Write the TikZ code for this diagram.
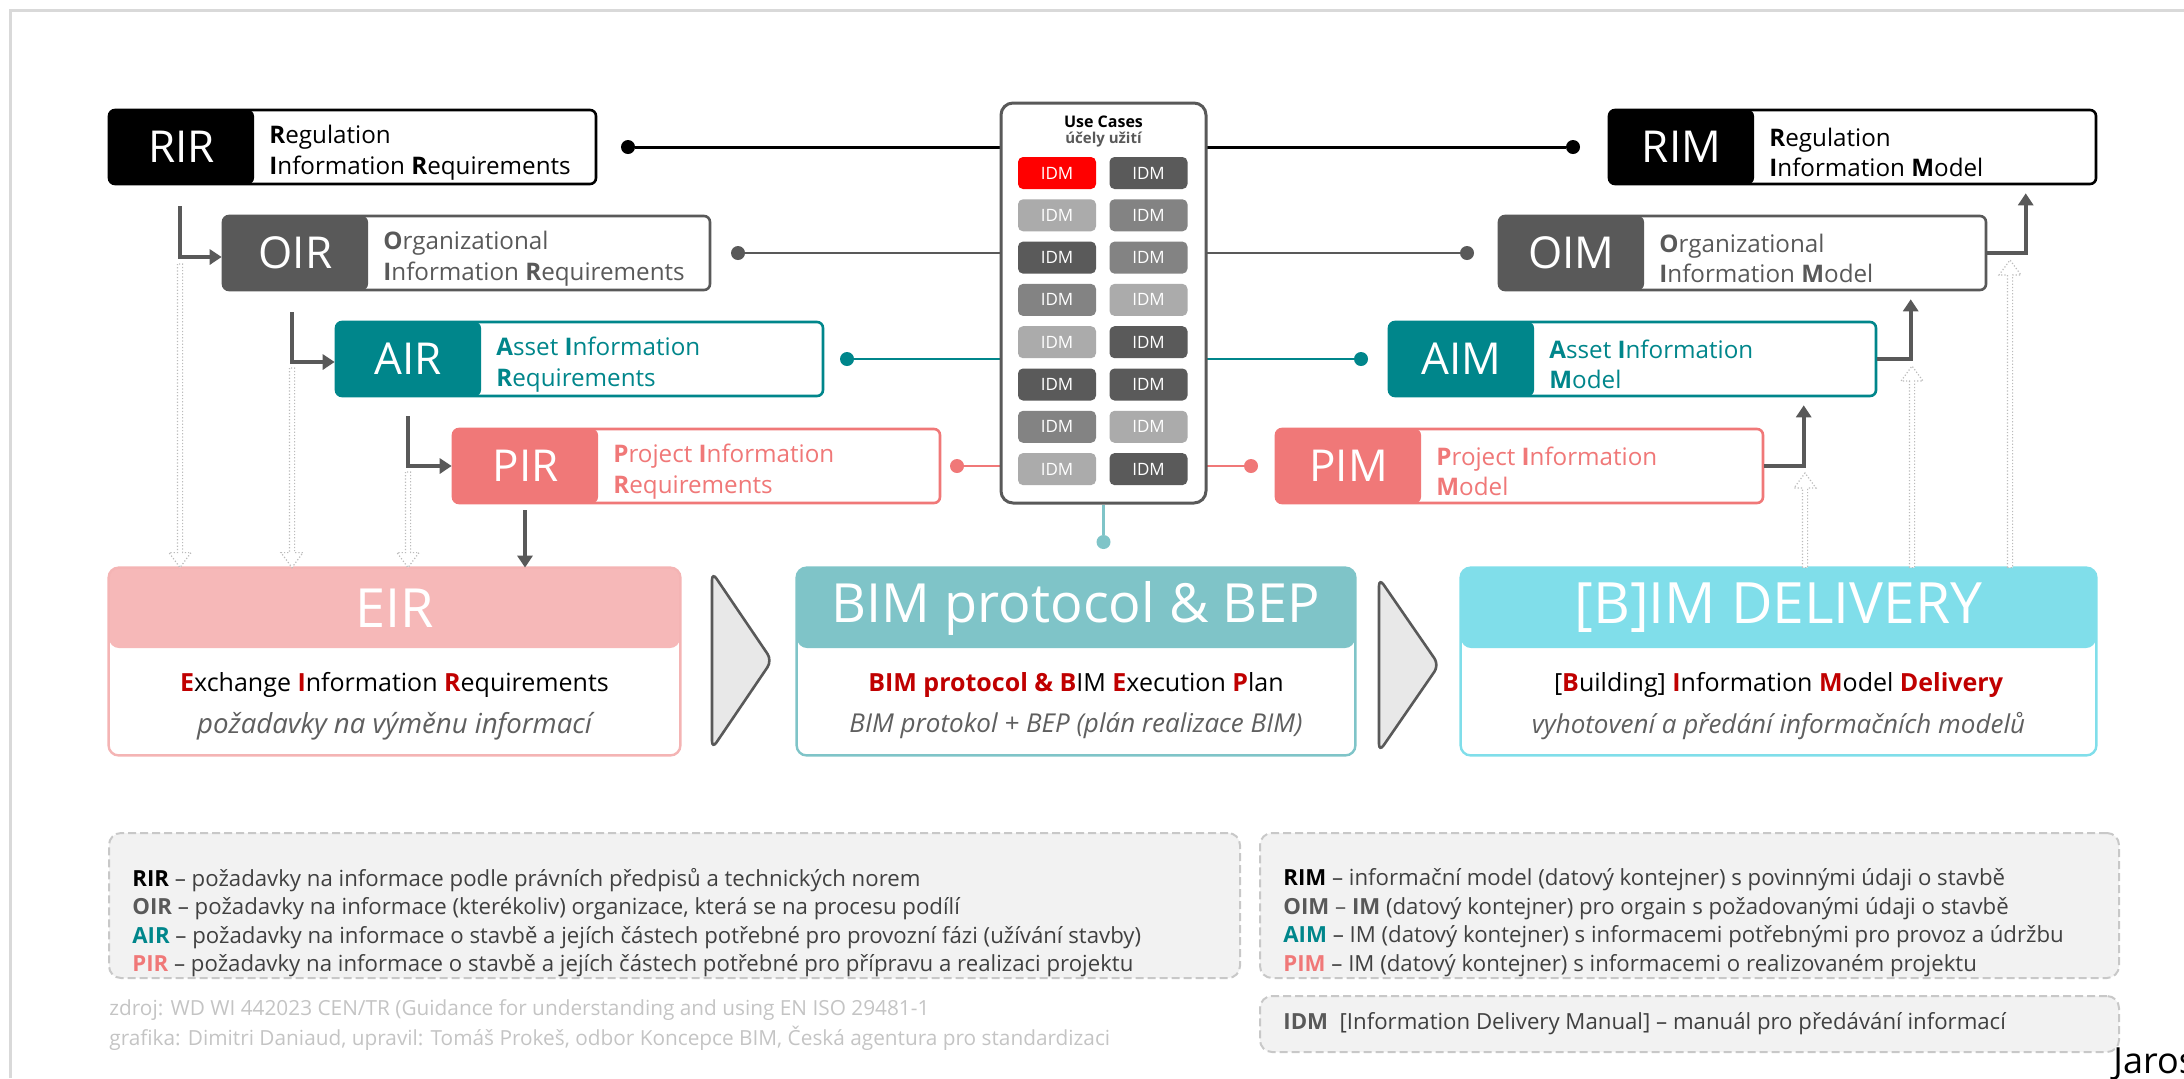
\documentclass[tikz,border=0pt]{standalone}
\usepackage{fontspec}
\setmainfont{Open Sans}
\usetikzlibrary{arrows.meta,calc}

\definecolor{cR}{HTML}{000000}
\definecolor{cO}{HTML}{595959}
\definecolor{cA}{HTML}{00868B}
\definecolor{cP}{HTML}{F07878}
\definecolor{dkred}{HTML}{C00000}
\definecolor{eirH}{HTML}{F6B8B8}
\definecolor{eirB}{HTML}{F4B4B4}
\definecolor{bepH}{HTML}{7FC4C8}
\definecolor{delH}{HTML}{80DEEA}
\definecolor{idmRed}{HTML}{FF0000}
\definecolor{idmD}{HTML}{5A5A5A}
\definecolor{idmM}{HTML}{838383}
\definecolor{idmL}{HTML}{ABABAB}
\definecolor{legfill}{HTML}{F2F2F2}
\definecolor{legdraw}{HTML}{C8C8C8}
\definecolor{txtgray}{HTML}{404040}
\definecolor{itgray}{HTML}{5F5F5F}
\definecolor{srcgray}{HTML}{C4C4C4}
\definecolor{hollowc}{HTML}{BBBBBB}
\definecolor{chevfill}{HTML}{E8E8E8}
\definecolor{framec}{HTML}{D9D9D9}

\newcommand\redb[1]{{\color{dkred}\bfseries #1}}

\newcommand\irbox[7]{%
  \node[outerbox, draw=#4] (#1) at ({#2+243.5},{#3+37}) {};
  \node[labbox, fill=#4] (#1lab) at ({#2+72.5},{#3+37}) {#5};
  \node[desc, text=#4] (#1txt) at ({#2+160},{#3+42.5}) {#6\\#7};
}

\newcommand\hollowarr[2]{%
  \path[hollow] let \p1=(#1), \p2=(#2), \n1={ifthenelse(\y1>\y2,7.5,-7.5)} in
   ({\x1-1.3pt},{\y1}) -- ({\x1-1.3pt},{\y2+(\n1)*1pt}) -- ({\x1-5.5pt},{\y2+(\n1)*1pt})
   -- (\p2) -- ({\x1+5.5pt},{\y2+(\n1)*1pt}) -- ({\x1+1.3pt},{\y2+(\n1)*1pt})
   -- ({\x1+1.3pt},{\y1}) -- cycle;
}

\begin{document}
\begin{tikzpicture}[x=0.5pt,y=-0.5pt,
  outerbox/.style={line width=1.3pt, fill=white, rounded corners=3pt,
    minimum width=243.5pt, minimum height=37pt, inner sep=0pt},
  labbox/.style={rounded corners=3pt, minimum width=72.5pt, minimum height=37pt,
    inner sep=0pt, text=white, font=\fontsize{22}{24}\selectfont},
  desc/.style={anchor=west, align=left, inner sep=0pt, font=\fontsize{12.1}{15.3}\selectfont},
  conn/.style={line width=1.3pt},
  dot/.style={circle, inner sep=0pt, minimum size=7pt},
  idm/.style={rounded corners=2.5pt, minimum width=39pt, minimum height=16pt,
    inner sep=0pt, text=white, font=\fontsize{8.5}{9}\selectfont},
  darrow/.style={draw=cO, line width=2pt, -{Triangle[length=6pt,width=7.5pt]}},
  hollow/.style={draw=hollowc, densely dotted, line width=0.6pt, fill=white},
  bbox/.style={fill=white, minimum height=93.5pt, inner sep=0pt, rounded corners=5pt},
  bhead/.style={minimum height=40pt, inner sep=0pt, rounded corners=5pt, text=white},
  bline1/.style={inner sep=0pt, font=\fontsize{12.5}{15}\selectfont},
  bline2/.style={inner sep=0pt, text=itgray, font=\fontsize{13}{15}\selectfont\itshape},
  chev/.style={draw=cO, fill=chevfill, line width=1.3pt, rounded corners=4pt},
  legbox/.style={draw=legdraw, fill=legfill, dash pattern=on 4pt off 2pt, line width=1pt,
    rounded corners=6pt, inner sep=0pt},
  legtext/.style={anchor=west, align=left, inner sep=0pt, text=txtgray,
    font=\fontsize{11.1}{14.3}\selectfont}
]
\useasboundingbox (0,0) rectangle (2184,1078);

% frame
\draw[framec, line width=1.5pt] (10,1078) -- (10,10) -- (2184,10);

% requirement / model boxes
\irbox{RIR}{109}{110}{cR}{RIR}{\textbf{R}egulation}{\textbf{I}nformation \textbf{R}equirements}
\irbox{OIR}{223}{216}{cO}{OIR}{\textbf{O}rganizational}{\textbf{I}nformation \textbf{R}equirements}
\irbox{AIR}{336}{322}{cA}{AIR}{\textbf{A}sset \textbf{I}nformation}{\textbf{R}equirements}
\irbox{PIR}{453}{429}{cP}{PIR}{\textbf{P}roject \textbf{I}nformation}{\textbf{R}equirements}
\irbox{RIM}{1609}{110}{cR}{RIM}{\textbf{R}egulation}{\textbf{I}nformation \textbf{M}odel}
\irbox{OIM}{1499}{216}{cO}{OIM}{\textbf{O}rganizational}{\textbf{I}nformation \textbf{M}odel}
\irbox{AIM}{1389}{322}{cA}{AIM}{\textbf{A}sset \textbf{I}nformation}{\textbf{M}odel}
\irbox{PIM}{1276}{429}{cP}{PIM}{\textbf{P}roject \textbf{I}nformation}{\textbf{M}odel}

% horizontal connectors
\node[dot, fill=cR] (dRIR) at (628,147) {};
\node[dot, fill=cR] (dRIM) at (1573,147) {};
\draw[conn, cR, line width=1.5pt] (dRIR) -- (dRIM);
\node[dot, fill=cO] (dOIR) at (738,253) {};
\node[dot, fill=cO] (dOIM) at (1467,253) {};
\draw[conn, cO] (dOIR) -- (dOIM);
\node[dot, fill=cA] (dAIR) at (847,359) {};
\node[dot, fill=cA] (dAIM) at (1361,359) {};
\draw[conn, cA] (dAIR) -- (dAIM);
\node[dot, fill=cP] (dPIR) at (957,466) {};
\node[dot, fill=cP] (dPIM) at (1251,466) {};
\draw[conn, cP] (dPIR) -- (dPIM);

% use cases box
\node[draw=cO, fill=white, line width=1.5pt, rounded corners=6pt, minimum width=102.5pt,
  minimum height=200pt, inner sep=0pt] (UC) at (1103.5,303) {};
\node[inner sep=0pt, font=\fontsize{8}{9}\selectfont\bfseries] (UCt) at (1103.5,122) {Use Cases};
\node[inner sep=0pt, text=cO, font=\fontsize{7.5}{8}\selectfont\bfseries] (UCs) at (1103.5,140) {účely užití};
\foreach \c [count=\i] in {idmRed,idmL,idmD,idmM,idmL,idmD,idmM,idmL}
  \node[idm, fill=\c] (idmA\i) at (1057,{173+(\i-1)*42.3}) {IDM};
\foreach \c [count=\i] in {idmD,idmM,idmM,idmL,idmD,idmD,idmL,idmD}
  \node[idm, fill=\c] (idmB\i) at (1148.5,{173+(\i-1)*42.3}) {IDM};
\node[dot, fill=bepH] (dUC) at (1103.5,542) {};
\draw[conn, bepH] (UC.south) -- (dUC);

% bottom boxes
\node[bbox, minimum width=285.5pt] (EIR) at (394.5,661.5) {};
\node[bhead, fill=eirH, minimum width=285.5pt, font=\fontsize{27}{30}\selectfont] (EIRh) at (394.5,608) {EIR};
\draw[eirB, line width=1.2pt, rounded corners=5pt] (EIR.north west) rectangle (EIR.south east);
\node[bline1] (EIRl1) at (394.5,685) {\redb{E}xchange \redb{I}nformation \redb{R}equirements};
\node[bline2, font=\fontsize{13.8}{15}\selectfont\itshape] (EIRl2) at (394.5,726) {požadavky na výměnu informací};

\node[bbox, minimum width=279pt] (BEP) at (1076,661.5) {};
\node[bhead, fill=bepH, minimum width=279pt, font=\fontsize{27}{30}\selectfont] (BEPh) at (1076,608) {BIM protocol \& BEP};
\draw[bepH, line width=1.2pt, rounded corners=5pt] (BEP.north west) rectangle (BEP.south east);
\node[bline1] (BEPl1) at (1076,685) {\redb{BIM protocol \& B}IM \redb{E}xecution \redb{P}lan};
\node[bline2] (BEPl2) at (1076,726) {BIM protokol + BEP (plán realizace BIM)};

\node[bbox, minimum width=317.5pt] (DEL) at (1778.5,661.5) {};
\node[bhead, fill=delH, minimum width=317.5pt, font=\fontsize{28.5}{31}\selectfont] (DELh) at (1778.5,608) {[B]IM DELIVERY};
\draw[delH, line width=1.2pt, rounded corners=5pt] (DEL.north west) rectangle (DEL.south east);
\node[bline1] (DELl1) at (1778.5,685) {[\redb{B}uilding] \redb{I}nformation \redb{M}odel \redb{Delivery}};
\node[bline2] (DELl2) at (1778.5,726) {vyhotovení a předání informačních modelů};

% chevrons
\draw[chev] (712,572) -- (772,660.5) -- (712,749) -- cycle;
\draw[chev] (1379,578) -- (1439,665) -- (1379,752) -- cycle;

% left elbow arrows
\coordinate (e1) at (180,206);
\draw[darrow] (e1) |- ($(OIR.west)+(0,4)$);
\coordinate (e2) at (292,312);
\draw[darrow] (e2) |- ($(AIR.west)+(0,3)$);
\coordinate (e3) at (408,416);
\draw[darrow] (e3) |- (PIR.west);
\coordinate (e4) at (525,510);
\draw[darrow] (e4) -- (e4 |- EIR.north);

% left hollow arrows
\coordinate (h1) at (180,264);
\hollowarr{h1}{h1 |- EIR.north}
\coordinate (h2) at (292,368);
\hollowarr{h2}{h2 |- EIR.north}
\coordinate (h3) at (408,472);
\hollowarr{h3}{h3 |- EIR.north}

% right elbow arrows
\draw[darrow] (PIM.east) -| ($(AIM.south west)+(416,8)$);
\draw[darrow] (AIM.east) -| ($(OIM.south west)+(413,8)$);
\draw[darrow] (OIM.east) -| ($(RIM.south west)+(418,8)$);

% right hollow arrows
\coordinate (u1) at (1805,473);
\hollowarr{u1 |- DEL.north}{u1}
\coordinate (u2) at (1912,366);
\hollowarr{u2 |- DEL.north}{u2}
\coordinate (u3) at (2010,260);
\hollowarr{u3 |- DEL.north}{u3}

% legends
\node[legbox, minimum width=565.5pt, minimum height=72.5pt] (legL) at (674.5,905.5) {};
\node[legtext] (legLt) at (132,922.5) {%
{\color{black}\textbf{RIR}} – požadavky na informace podle právních předpisů a technických norem\\
{\color{cO}\textbf{OIR}} – požadavky na informace (kterékoliv) organizace, která se na procesu podílí\\
{\color{cA}\textbf{AIR}} – požadavky na informace o stavbě a jejích částech potřebné pro provozní fázi (užívání stavby)\\
{\color{cP}\textbf{PIR}} – požadavky na informace o stavbě a jejích částech potřebné pro přípravu a realizaci projektu};

\node[legbox, minimum width=429.5pt, minimum height=72.5pt] (legR) at (1689.5,905.5) {};
\node[legtext] (legRt) at (1283,922.5) {%
{\color{black}\textbf{RIM}} – informační model (datový kontejner) s povinnými údaji o stavbě\\
{\color{cO}\textbf{OIM} – \textbf{IM}} (datový kontejner) pro orgain s požadovanými údaji o stavbě\\
{\color{cA}\textbf{AIM}} – IM (datový kontejner) s informacemi potřebnými pro provoz a údržbu\\
{\color{cP}\textbf{PIM}} – IM (datový kontejner) s informacemi o realizovaném projektu};

\node[legbox, minimum width=429.5pt, minimum height=28pt] (legI) at (1689.5,1024) {};
\node[legtext] (legIt) at (1283,1024) {{\color{cO}\textbf{IDM}}\ \ [Information Delivery Manual] – manuál pro předávání informací};

\node[anchor=west, align=left, inner sep=0pt, text=srcgray, font=\fontsize{10.4}{15.4}\selectfont] (src) at (109,1025) {%
zdroj: WD WI 442023 CEN/TR (Guidance for understanding and using EN ISO 29481-1\\
grafika: Dimitri Daniaud, upravil: Tomáš Prokeš, odbor Koncepce BIM, Česká agentura pro standardizaci};

\node[anchor=base west, inner sep=0pt, font=\fontsize{18}{20}\selectfont] (jaros) at (2113,1073) {Jaros};
\end{tikzpicture}
\end{document}
